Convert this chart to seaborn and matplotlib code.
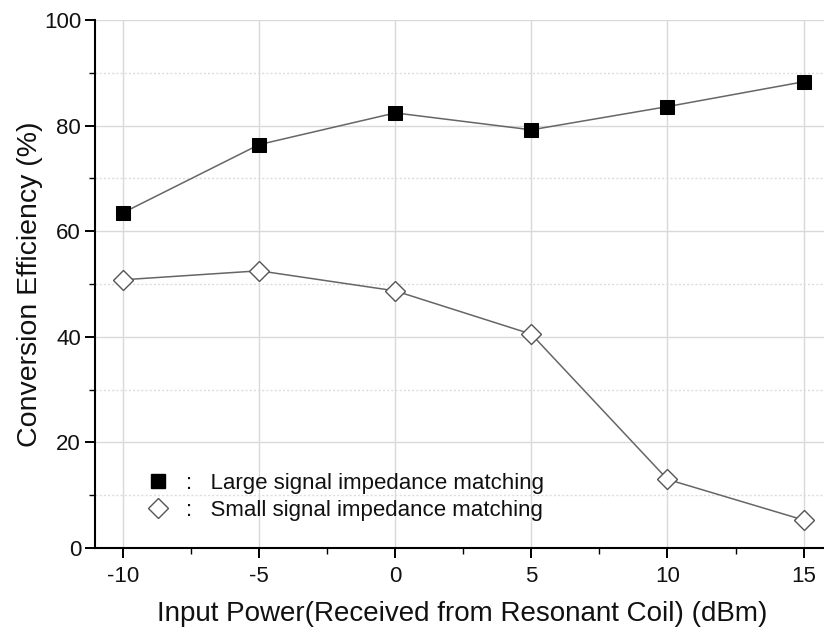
import matplotlib
matplotlib.use("Agg")
import matplotlib.pyplot as plt
from matplotlib.lines import Line2D
from matplotlib.ticker import MultipleLocator
import seaborn as sns
import pandas as pd

input_power = [-10, -5, 0, 5, 10, 15]
large_signal = [63.5, 76.4, 82.4, 79.2, 83.6, 88.3]
small_signal = [50.8, 52.5, 48.7, 40.5, 13.0, 5.3]
legend_labels = [":   Large signal impedance matching", ":   Small signal impedance matching"]

sns.set_theme(style="white")
plt.rcParams['font.family'] = ['Liberation Sans', 'DejaVu Sans']
plt.rcParams['axes.unicode_minus'] = False
plt.rcParams['text.color'] = '#111111'
plt.rcParams['axes.labelcolor'] = '#111111'

fig = plt.figure(figsize=(8.24, 6.4), dpi=100)
ax = fig.add_axes([95/824, 92/640, 1 - 95/824, 528/640])

df_l = pd.DataFrame({"x": input_power, "y": large_signal})
df_s = pd.DataFrame({"x": input_power, "y": small_signal})

sns.lineplot(data=df_l, x="x", y="y", ax=ax, color="#666666", linewidth=1.1,
             marker="s", markersize=10, markerfacecolor="black",
             markeredgecolor="black", zorder=3)
sns.lineplot(data=df_s, x="x", y="y", ax=ax, color="#666666", linewidth=1.1,
             marker="D", markersize=10.5, markerfacecolor="white",
             markeredgecolor="#555555", markeredgewidth=1.0, zorder=3)

ax.set_xlim(-11.03, 15.75)
ax.set_ylim(0, 100)
ax.xaxis.set_major_locator(MultipleLocator(5))
ax.xaxis.set_minor_locator(MultipleLocator(2.5))
ax.yaxis.set_major_locator(MultipleLocator(20))
ax.yaxis.set_minor_locator(MultipleLocator(10))

ax.grid(which="major", axis="both", color="#d9d9d9", linewidth=1.0)
ax.grid(which="minor", axis="y", color="#dddddd", linewidth=1.0, linestyle=(0, (1.5, 1.5)))
ax.set_axisbelow(True)

for s in ["top", "right"]:
    ax.spines[s].set_visible(False)
for s in ["left", "bottom"]:
    ax.spines[s].set_color("black")
    ax.spines[s].set_linewidth(1.5)

ax.tick_params(which="major", direction="out", length=7, width=1.4, colors="black",
               labelcolor="#111111", labelsize=16, left=True, bottom=True, pad=3)
ax.tick_params(which="minor", direction="out", length=4, width=1.0, colors="black",
               left=True, bottom=True)
ax.tick_params(axis="x", which="major", pad=6)

ax.set_xlabel("Input Power(Received from Resonant Coil) (dBm)", fontsize=20)
ax.set_ylabel("Conversion Efficiency (%)", fontsize=20.5)
ax.xaxis.set_label_coords((462 - 95) / 729, -(614 - 548) / 528)
ax.yaxis.set_label_coords(-(95 - 30) / 729, 0.5)
ax.xaxis.label.set_va("center")
ax.yaxis.label.set_va("center")

handles = [
    Line2D([], [], linestyle="none", marker="s", markersize=10, markerfacecolor="black",
           markeredgecolor="black"),
    Line2D([], [], linestyle="none", marker="D", markersize=10, markerfacecolor="white",
           markeredgecolor="#555555"),
]
ax.legend(handles, legend_labels, loc="lower left", bbox_to_anchor=(0.035, 0.014),
          frameon=False, fontsize=16, handletextpad=0.45, labelspacing=0.25,
          handlelength=1.6)

fig.savefig("out.png", dpi=100)
